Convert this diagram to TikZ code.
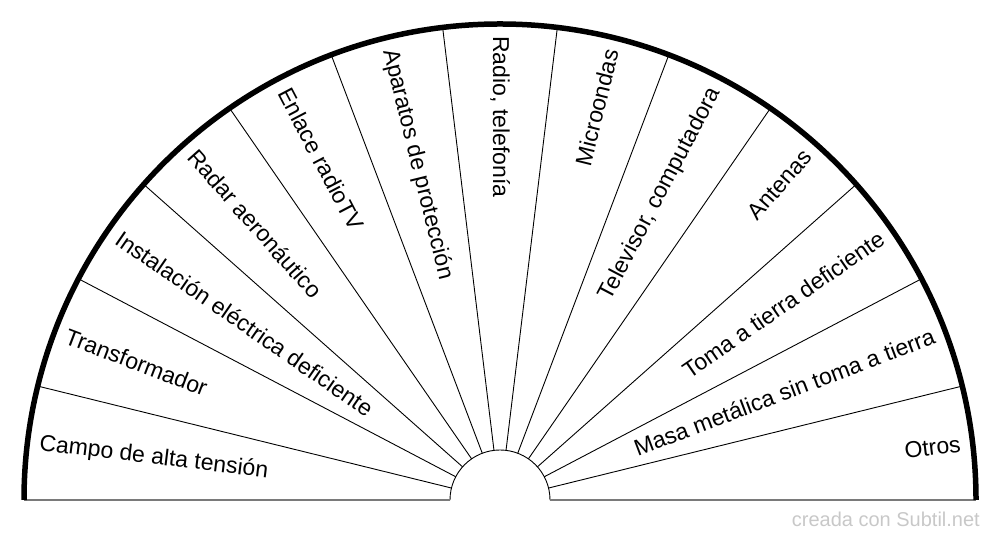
\documentclass[tikz,border=0pt]{standalone}
\usepackage{fontspec}
\setmainfont{Liberation Sans}
\usetikzlibrary{positioning,calc}
\definecolor{basegray}{HTML}{7A7A7A}
\definecolor{markgray}{HTML}{C8C8C8}

\begin{document}
\begin{tikzpicture}[x=1pt,y=1pt,
				rim/.style={line width=5.5pt,black},
				spoke/.style={line width=0.9pt,black},
				base/.style={line width=2pt,basegray},
				lbl/.style={font=\fontsize{23}{27}\selectfont,inner sep=0pt}]
				\useasboundingbox (0,0) rectangle (1000,540);
				\coordinate (O) at (500,40);
				
				\foreach \k in {1,...,12}
					\draw[spoke] ($(O)+(\k*180/13:50)$) -- ($(O)+(\k*180/13:476)$);
				\draw[spoke] ($(O)+(50,0)$) arc (0:180:50);
				\draw[base] ($(O)+(-476,0)$) -- ($(O)+(-50,0)$) ($(O)+(50,0)$) -- ($(O)+(476,0)$);
				\draw[rim] ($(O)+(476,0)$) arc (0:180:476);
				
				\foreach \t [count=\i] in {Campo de alta tensión, Transformador, Instalación eléctrica deficiente,
					Radar aeronáutico, Enlace radioTV, Aparatos de protección, {Radio, telefonía}, Microondas,
					{Televisor, computadora}, Antenas, Toma a tierra deficiente, Masa metálica sin toma a tierra, Otros}{
					\pgfmathsetmacro{\a}{180-(\i-0.5)*180/13}
					\ifnum\i<8
						\node[lbl,rotate=\a-180,anchor=west] (L\i) at ($(O)+(\a:464)$) {\t};
					\else
						\node[lbl,rotate=\a,anchor=east] (L\i) at ($(O)+(\a:464)$) {\t};
					\fi
				}
				
				\node[font=\fontsize{20}{23}\selectfont,text=markgray,anchor=east,inner sep=0pt] (mark) at (980,21) {creada con Subtil.net};
			\end{tikzpicture}
\end{document}
